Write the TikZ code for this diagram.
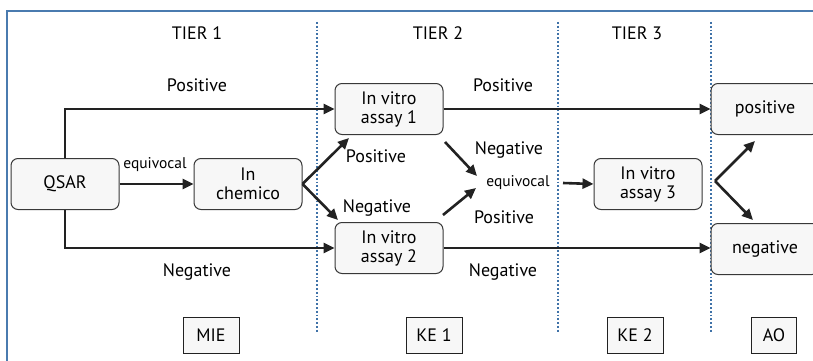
\documentclass[tikz,border=0pt]{standalone}
\usepackage{fontspec}
\setmainfont{PT Sans}
\usetikzlibrary{arrows.meta}
\definecolor{frameblue}{HTML}{4A7BAF}
\definecolor{dotblue}{HTML}{3F72A8}
\definecolor{boxfill}{HTML}{F7F7F7}
\definecolor{ink}{HTML}{222222}
\begin{document}
\begin{tikzpicture}[x=1pt,y=-1pt,
 box/.style={draw=ink!90, line width=1pt, fill=boxfill, rounded corners=7pt, minimum width=108pt, minimum height=51pt, align=center, font=\fontsize{18}{19}\selectfont, inner sep=0pt},
 tag/.style={draw=ink, line width=1pt, fill=boxfill, minimum height=36pt, minimum width=56pt, inner sep=0pt, font=\fontsize{18}{18}\selectfont},
 lbl/.style={font=\fontsize{18}{18}\selectfont, inner sep=0pt},
 small/.style={font=\fontsize{15.5}{15}\selectfont, inner sep=0pt},
 arr/.style={draw=ink, line width=2.6pt, -{Triangle[length=11pt,width=10pt]}},
 sep/.style={draw=dotblue, line width=1.8pt, dotted}]
\clip (0,0) rectangle (813,361);
\fill[white] (0,0) rectangle (813,361);
\draw[frameblue, line width=1.4pt] (7,11) rectangle (830,380);
% separators
\draw[sep] (317,22) -- (317,333);
\draw[sep] (558,22) -- (558,333);
\draw[sep] (711,22) -- (711,333);
% headers
\node[lbl] (t1) at (197,33) {TIER 1};
\node[lbl] (t2) at (438,33) {TIER 2};
\node[lbl] (t3) at (637,33) {TIER 3};
% boxes
\node[box] (qsar) at (65,184) {QSAR};
\node[box] (chem) at (248,184) {In\\chemico};
\node[box] (a1) at (389,109) {In vitro\\assay 1};
\node[box] (a2) at (389,248) {In vitro\\assay 2};
\node[box] (a3) at (648,184) {In vitro\\assay 3};
\node[box] (pos) at (765,109) {positive};
\node[box] (neg) at (765,249) {negative};
% tags
\node[tag] (mie) at (211,335) {MIE};
\node[tag] (ke1) at (434,335) {KE 1};
\node[tag] (ke2) at (635,335) {KE 2};
\node[tag, minimum width=45pt] (ao) at (774,335) {AO};
% labels
\node[lbl] (p1) at (197,85) {Positive};
\node[lbl] (p2) at (503,85) {Positive};
\node[lbl] (n1) at (197,272) {Negative};
\node[lbl] (n2) at (503,272) {Negative};
\node[lbl] (p3) at (376,156) {Positive};
\node[lbl] (n3) at (377,208) {Negative};
\node[lbl] (n4) at (509,150) {Negative};
\node[lbl] (p4) at (504,217) {Positive};
\node[small] (eq) at (518,183) {equivocal};
\node[small] (eql) at (155,165) {equivocal};
% coordinates for free ends
\coordinate (c1) at (349,138);
\coordinate (c2) at (338,220);
\coordinate (s3) at (445,142);
\coordinate (e3) at (477,176);
\coordinate (s4) at (443,215);
\coordinate (e4) at (476,188);
\coordinate (s5) at (563,183);
\coordinate (s6) at (715,181);
\coordinate (e6) at (755,141);
\coordinate (e7) at (753,220);
% arrows
\draw[arr] (qsar.north) |- (a1.west);
\draw[arr] (qsar.south) |- (a2.west);
\draw[arr] (qsar) -- (chem);
\draw[arr] (chem.east) -- (c1);
\draw[arr] (chem.east) -- (c2);
\draw[arr] (s3) -- (e3);
\draw[arr] (s4) -- (e4);
\draw[arr] (s5) -- (a3.west);
\draw[arr] (a1) -- (pos);
\draw[arr] (a2.east) -- (a2.east -| neg.west);
\draw[arr] (s6) -- (e6);
\draw[arr] (s6) -- (e7);
\end{tikzpicture}
\end{document}
